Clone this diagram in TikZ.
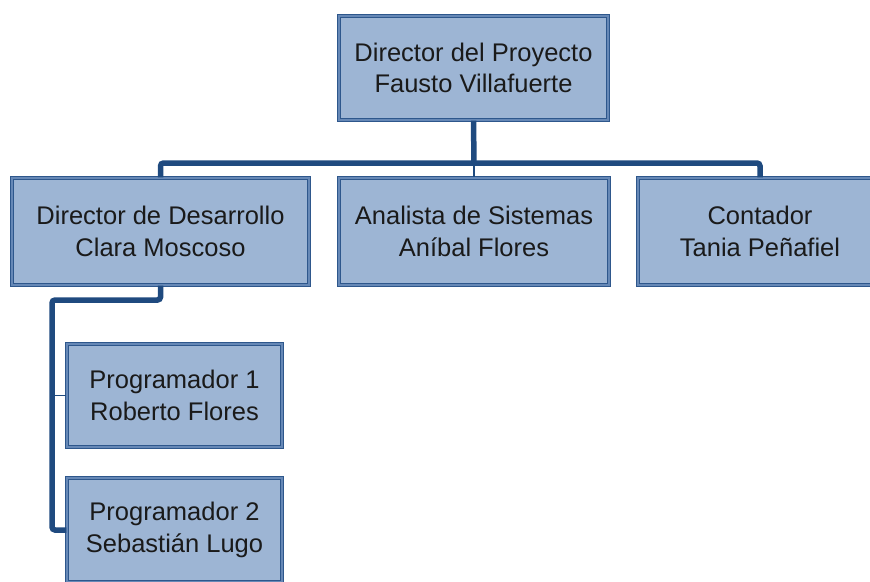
\documentclass[tikz,border=0pt]{standalone}
\usepackage{fontspec}
\setmainfont{Liberation Sans}
\usepackage{xcolor}
\usetikzlibrary{calc}
\definecolor{cajafondo}{HTML}{9DB5D4}
\definecolor{cajaborde}{HTML}{2E578C}
\definecolor{cajabanda}{HTML}{6688B6}
\definecolor{ramacolor}{HTML}{1F4A7F}
\definecolor{textocaja}{HTML}{1A1A1A}
\tikzset{
	cargo/.style={
			rectangle, fill=cajafondo, draw=cajaborde, line width=1.1pt,
			double=cajabanda, double distance=2pt,
			align=center, text=textocaja, inner sep=0pt,
			font=\fontsize{25.5}{31.5}\selectfont
		},
	rama/.style={draw=ramacolor, line width=5.5pt, rounded corners=3pt},
	ramafina/.style={draw=ramacolor, line width=1.3pt}
}

\begin{document}
\begin{tikzpicture}[x=1pt,y=-1pt]
			\useasboundingbox (0,0) rectangle (870,581);

			% Draw the boxes
			\node[cargo,minimum width=269pt,minimum height=104pt] (dirP) at (473.5,68) {Director del Proyecto\\Fausto Villafuerte};
			\node[cargo,minimum width=297pt,minimum height=107pt] (dirD) at (160.5,231.5) {Director de Desarrollo\\Clara Moscoso};
			\node[cargo,minimum width=270pt,minimum height=107pt] (anal) at (474,231.5) {Analista de Sistemas\\Aníbal Flores};
			\node[cargo,minimum width=244pt,minimum height=107pt] (cont) at (760,231.5) {Contador\\Tania Peñafiel};
			\node[cargo,minimum width=215pt,minimum height=103pt] (prog1) at (174.5,395.5) {Programador 1\\Roberto Flores};
			\node[cargo,minimum width=215pt,minimum height=104pt] (prog2) at (174.5,530) {Programador 2\\Sebastián Lugo};

			% Draw the branches
			\coordinate (bus) at (474,163);
			\coordinate (codo) at (52,300);
			\draw[rama] (dirD.north) |- (bus) -| (cont.north);
			\draw[rama] (dirP.south) -- (bus);
			\draw[ramafina] (bus) -- (anal.north);
			\draw[rama] (dirD.south) |- (codo) |- (prog2.west);
			\draw[ramafina] (codo |- prog1.west) -- (prog1.west);
		\end{tikzpicture}
\end{document}
